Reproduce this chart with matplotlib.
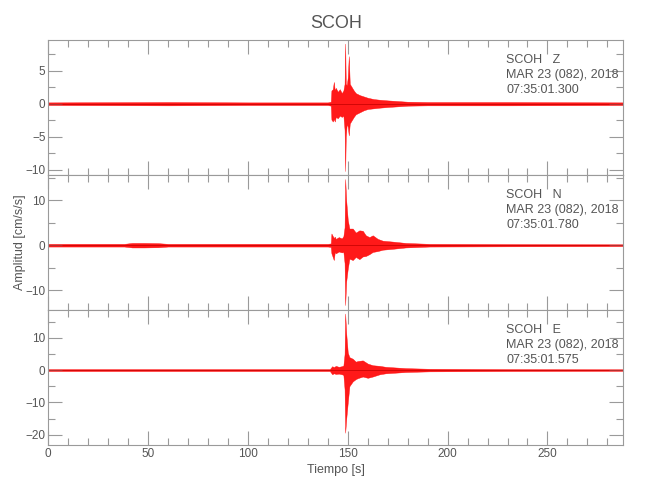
import numpy as np
import matplotlib
matplotlib.use("Agg")
import matplotlib.pyplot as plt
from matplotlib.ticker import MultipleLocator

# --- datos (envolvente de cada componente) ---
estacion = "SCOH"
componentes = ["Z", "N", "E"]
horas = ["07:35:01.300", "07:35:01.780", "07:35:01.575"]
fecha = "MAR 23 (082), 2018"
t_max = 288

t_z = [0, 60, 100, 140, 141.5, 141.8, 142.5, 143, 143.5, 144, 145, 146, 147, 147.8,
       148.4, 148.7, 149, 149.5, 150, 150.5, 151, 152, 153, 154, 156, 158, 160,
       163, 166, 170, 175, 180, 190, 230, 288]
sup_z = [0.2, 0.25, 0.2, 0.2, 0.3, 2.0, 2.2, 3.3, 2.0, 2.4, 1.8, 2.2, 1.6, 2.0,
         3.0, 9.1, 3.0, 2.8, 4.0, 7.2, 3.0, 2.5, 2.0, 1.6, 1.3, 1.1, 0.9,
         0.7, 0.6, 0.5, 0.4, 0.3, 0.25, 0.25, 0.2]
inf_z = [-0.2, -0.25, -0.2, -0.2, -0.3, -2.4, -2.7, -2.3, -2.7, -2.0, -2.2, -1.8, -2.0, -1.8,
         -4.0, -10.2, -5.0, -3.0, -3.5, -4.8, -3.0, -2.5, -2.0, -1.6, -1.3, -1.0, -0.8,
         -0.7, -0.6, -0.5, -0.4, -0.3, -0.25, -0.25, -0.2]

t_n = [0, 38, 42, 48, 55, 60, 140, 141.5, 141.8, 143, 143.5, 144, 145.5, 147, 147.8,
       148.4, 148.7, 149.2, 150, 150.8, 152.5, 154, 155.8, 157.5, 159, 160.8, 162.5,
       165, 167.5, 172.5, 179, 191, 230, 288]
sup_n = [0.3, 0.3, 0.5, 0.5, 0.45, 0.3, 0.3, 0.4, 2.6, 1.6, 1.9, 1.4, 1.8, 1.5, 2.0,
         4.0, 14.7, 10.0, 5.6, 3.7, 3.7, 2.8, 3.3, 3.2, 2.2, 1.8, 2.2,
         1.4, 1.0, 0.8, 0.5, 0.3, 0.25, 0.2]
inf_n = [-0.3, -0.3, -0.5, -0.5, -0.45, -0.3, -0.3, -0.4, -1.8, -3.3, -1.5, -1.8, -1.4, -1.6, -1.5,
         -4.0, -13.3, -8.1, -5.2, -3.0, -3.3, -2.6, -3.1, -2.5, -2.4, -2.0, -1.5,
         -1.3, -1.0, -0.8, -0.5, -0.3, -0.25, -0.2]

t_e = [0, 60, 100, 141, 142.2, 143, 144, 145.5, 147, 147.8, 148.4, 148.7, 149.2, 150,
       150.8, 152.5, 154, 155, 157.5, 160, 162.5, 166, 169, 174, 179, 191, 210, 230, 288]
sup_e = [0.3, 0.3, 0.3, 0.3, 1.2, 0.9, 1.3, 1.0, 1.2, 1.4, 5.0, 17.5, 11.5, 5.4,
         4.0, 3.5, 2.6, 2.8, 3.0, 2.0, 1.5, 1.3, 1.0, 0.8, 0.6, 0.4, 0.35, 0.3, 0.25]
inf_e = [-0.3, -0.3, -0.3, -0.3, -1.3, -1.0, -1.2, -1.1, -1.3, -1.5, -6.0, -19.4, -15.3, -10.0,
         -5.0, -3.5, -2.8, -2.5, -2.0, -2.4, -2.0, -1.3, -1.0, -0.8, -0.6, -0.4, -0.35, -0.3, -0.25]

trazas = [(t_z, sup_z, inf_z), (t_n, sup_n, inf_n), (t_e, sup_e, inf_e)]
ylims = [(-10.8, 9.65), (-14.4, 15.6), (-23.2, 18.6)]
y_mayor = [5, 10, 10]
y_menor = [2.5, 5, 5]

gris_txt = "#555555"
gris_eje = "#9a9a9a"
plt.rcParams["font.family"] = ["Liberation Sans", "DejaVu Sans"]

fig = plt.figure(figsize=(6.5, 5), dpi=100)
izq, ancho, alto = 48.3 / 650, 575 / 650, 0.27
bases = [0.65, 0.38, 0.11]

ejes = []
for i in range(3):
    ax = fig.add_axes([izq, bases[i], ancho, alto])
    t, sup, inf = trazas[i]
    ax.fill_between(t, inf, sup, color="red", lw=0.3, edgecolor="red", alpha=0.9)
    ax.axhline(0, color="#c00000", lw=0.5)
    ax.set_xlim(0, t_max)
    ax.set_ylim(*ylims[i])
    ax.xaxis.set_major_locator(MultipleLocator(50))
    ax.xaxis.set_minor_locator(MultipleLocator(10))
    ax.yaxis.set_major_locator(MultipleLocator(y_mayor[i]))
    ax.yaxis.set_minor_locator(MultipleLocator(y_menor[i]))
    ax.tick_params(which="both", direction="in", top=True, right=True,
                   color=gris_eje, labelcolor=gris_txt, labelsize=8.5, pad=2)
    ax.tick_params(which="major", length=10, width=0.8)
    ax.tick_params(which="minor", length=5, width=0.8)
    for s in ax.spines.values():
        s.set_color(gris_eje)
        s.set_linewidth(0.8)
    if i < 2:
        ax.tick_params(labelbottom=False)
    ax.text(0.796, 0.852, f"{estacion}   {componentes[i]}", transform=ax.transAxes,
            color=gris_txt, fontsize=9, va="center", ha="left")
    ax.text(0.796, 0.741, fecha, transform=ax.transAxes,
            color=gris_txt, fontsize=9, va="center", ha="left")
    ax.text(0.796, 0.630, horas[i], transform=ax.transAxes,
            color=gris_txt, fontsize=9, va="center", ha="left")
    ejes.append(ax)

fig.text(335.8 / 650, 1 - 23 / 500, estacion, ha="center", va="center",
         fontsize=13, color=gris_txt)
fig.text(335.8 / 650, 1 - 470 / 500, "Tiempo [s]", ha="center", va="center",
         fontsize=9, color=gris_txt)
fig.text(20 / 650, 1 - 242 / 500, "Amplitud [cm/s/s]", ha="center", va="center",
         rotation=90, fontsize=9, color=gris_txt)

fig.savefig("out.png", dpi=100)
